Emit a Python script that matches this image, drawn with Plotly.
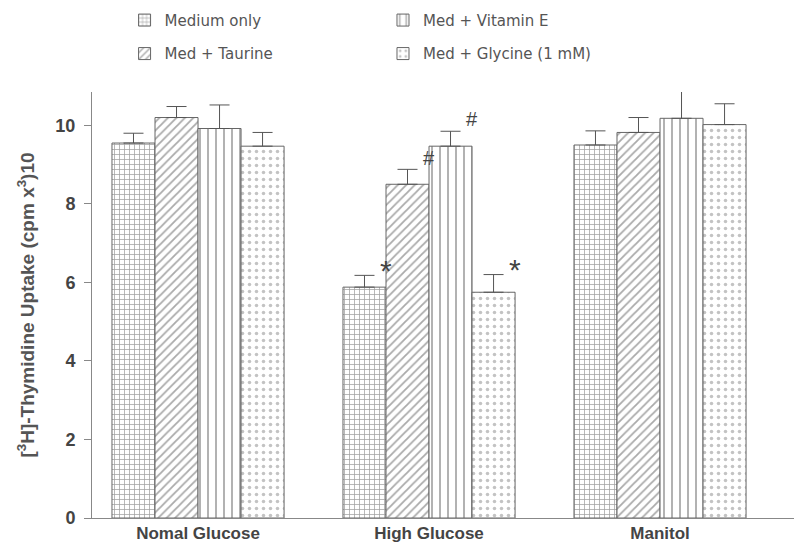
import plotly.graph_objects as go

groups = ["Nomal Glucose", "High Glucose", "Manitol"]
series_names = ["Medium only", "Med + Taurine", "Med + Vitamin E", "Med + Glycine (1 mM)"]
medium_only = [9.55, 5.88, 9.50]
medium_only_err = [0.25, 0.30, 0.36]
taurine = [10.20, 8.50, 9.82]
taurine_err = [0.28, 0.38, 0.38]
vitamin_e = [9.92, 9.47, 10.18]
vitamin_e_err = [0.60, 0.38, 0.70]
glycine = [9.47, 5.75, 10.02]
glycine_err = [0.35, 0.45, 0.53]
# significance marks: (series index, group index, symbol)
marks = [(0, 1, "*"), (1, 1, "#"), (2, 1, "#"), (3, 1, "*")]

values = [medium_only, taurine, vitamin_e, glycine]
errors = [medium_only_err, taurine_err, vitamin_e_err, glycine_err]
patterns = ["+", "/", "|", "."]
pattern_sizes = [5, 6, 8, 7]
pattern_solidity = [0.28, 0.3, 0.25, 0.2]
pattern_colors = ["#444", "#555", "#666", "#888"]
legend_ids = ["legend", "legend", "legend2", "legend2"]

BARGAP = 0.255
fig = go.Figure()
for i in range(4):
    fig.add_trace(go.Bar(
        name=series_names[i], x=groups, y=values[i],
        marker=dict(color="white", line=dict(color="#666", width=1),
                    pattern=dict(shape=patterns[i], fgcolor=pattern_colors[i], bgcolor="white",
                                 size=pattern_sizes[i], solidity=pattern_solidity[i],
                                 fillmode="overlay")),
        error_y=dict(type="data", symmetric=False, array=errors[i],
                     arrayminus=[0] * 3, color="#555", thickness=1, width=10),
        legend=legend_ids[i], legendgroup=series_names[i],
    ))

bw = (1 - BARGAP) / 4
for si, gi, sym in marks:
    xpos = gi + (si - 1.5) * bw + bw / 2
    if sym == "*":
        ypos = values[si][gi] + errors[si][gi] + 0.12
        size = 30
    else:
        ypos = values[si][gi] + errors[si][gi] + 0.3
        size = 20
    fig.add_annotation(x=xpos, y=ypos, xref="x", yref="y", text=sym, showarrow=False,
                       font=dict(size=size, color="#444", family="Liberation Sans"),
                       xanchor="center", yanchor="middle")

legend_style = dict(font=dict(family="DejaVu Sans", size=15, color="#555"),
                    bgcolor="rgba(0,0,0,0)", orientation="v", tracegroupgap=11,
                    xref="paper", yref="paper", xanchor="left", yanchor="top")
fig.update_layout(
    width=802, height=550,
    margin=dict(l=84, r=10, t=84, b=40, autoexpand=False),
    paper_bgcolor="white", plot_bgcolor="white",
    barmode="group", bargap=BARGAP, bargroupgap=0,
    legend=dict(x=0.046, y=1.207, **legend_style),
    legend2=dict(x=0.411, y=1.207, **legend_style),
    font=dict(family="Liberation Sans", color="#444"),
)
fig.update_xaxes(range=[-0.459, 2.606], showline=True, linecolor="#888", linewidth=1,
                 ticks="", tickangle=0, tickfont=dict(size=17, color="#444", weight="bold"), showgrid=False)
fig.update_yaxes(range=[0, 10.85], showline=True, linecolor="#888", linewidth=1,
                 ticks="outside", ticklen=7, tickcolor="#888", dtick=2, showgrid=False,
                 ticklabelstandoff=5,
                 zeroline=False, tickfont=dict(size=18, color="#444", weight="bold"),
                 title=dict(text="[<sup>3</sup>H]-Thymidine Uptake (cpm x<sup>3</sup>)10",
                            font=dict(size=19, color="#555", weight="bold"), standoff=15))

fig.write_html("out.html")
